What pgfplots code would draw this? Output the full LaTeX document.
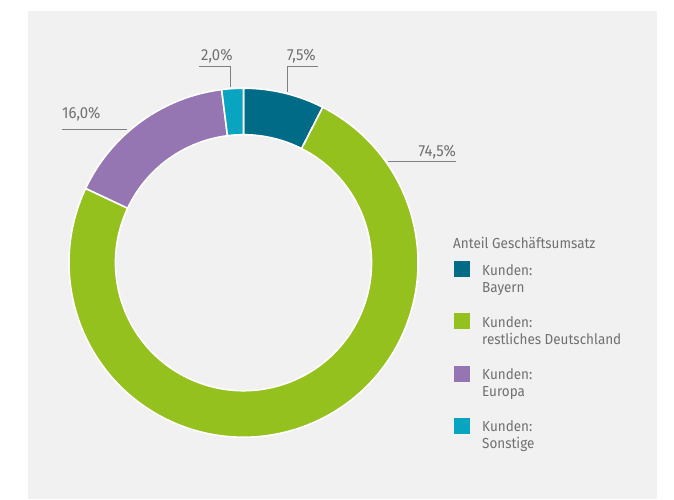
\documentclass[border=0pt]{standalone}
\usepackage{pgfplots}
\pgfplotsset{compat=1.18}
\usepackage{pgfplotstable}
\usepackage{fontspec}
\setmainfont{Fira Sans}[FakeStretch=0.93]
\definecolor{bg}{HTML}{F1F1F1}
\definecolor{txt}{HTML}{707070}
\definecolor{ln}{HTML}{808080}
\definecolor{col0}{HTML}{006B86}
\definecolor{col1}{HTML}{95C11F}
\definecolor{col2}{HTML}{9575B2}
\definecolor{col3}{HTML}{08A4C0}

\pgfplotstableread[col sep=comma]{
label,value
Bayern,7.5
restliches Deutschland,74.5
Europa,16.0
Sonstige,2.0
}\shares

\begin{document}
\begin{tikzpicture}[lbl/.style={inner sep=0pt,text=txt,font=\fontsize{14.5}{17}\selectfont},
  val/.style={inner sep=0pt,text=txt,font=\fontsize{16}{19}\selectfont}]
\gdef\cum{90}
\pgfplotstableforeachcolumnelement{value}\of\shares\as\v{%
  \pgfmathsetmacro\aend{\cum-3.6*\v}%
  \expandafter\xdef\csname as\pgfplotstablerow\endcsname{\cum}%
  \expandafter\xdef\csname ae\pgfplotstablerow\endcsname{\aend}%
  \xdef\cum{\aend}%
}
\begin{axis}[width=674pt,height=499pt,scale only axis,
  xmin=0,xmax=674,ymin=0,ymax=499,axis lines=none,clip=false]
\path (axis cs:0,0) rectangle (axis cs:674,499);
\fill[bg] (axis cs:28,0) rectangle (axis cs:657,488);
\pgfplotsinvokeforeach{0,1,2,3}{
  \filldraw[fill=col#1,draw=white,line width=1.6pt,line join=round]
    (axis cs:{243.5+174.5*cos(\csname as#1\endcsname)},{236.3+174.5*sin(\csname as#1\endcsname)})
    arc[start angle=\csname as#1\endcsname,end angle=\csname ae#1\endcsname,radius=174.5pt]
    -- (axis cs:{243.5+128*cos(\csname ae#1\endcsname)},{236.3+128*sin(\csname ae#1\endcsname)})
    arc[start angle=\csname ae#1\endcsname,end angle=\csname as#1\endcsname,radius=128pt]
    -- cycle;
}
% leader lines
\draw[ln,line width=0.9pt] (axis cs:199,433) -- (axis cs:230,433) -- (axis cs:230,412);
\draw[ln,line width=0.9pt] (axis cs:318,433) -- (axis cs:287,433) -- (axis cs:287,407);
\draw[ln,line width=0.9pt] (axis cs:388,338) -- (axis cs:456,338);
\draw[ln,line width=0.9pt] (axis cs:62,370) -- (axis cs:127,370);
% value labels
\node[val,anchor=base west] at (axis cs:201,438) {2,0\%};
\node[val,anchor=base west] at (axis cs:287,438) {7,5\%};
\node[val,anchor=base east] at (axis cs:456,343) {74,5\%};
\node[val,anchor=base west] at (axis cs:62,380) {16,0\%};
% legend
\node[lbl,anchor=base west] at (axis cs:453,251) {Anteil Geschäftsumsatz};
\fill[col0] (axis cs:454,238) rectangle (axis cs:470,222);
\node[lbl,anchor=base west] at (axis cs:482,224) {Kunden:};
\node[lbl,anchor=base west] at (axis cs:482,207) {Bayern};
\fill[col1] (axis cs:454,185.7) rectangle (axis cs:470,169.7);
\node[lbl,anchor=base west] at (axis cs:482,171.7) {Kunden:};
\node[lbl,anchor=base west] at (axis cs:482,154.7) {restliches Deutschland};
\fill[col2] (axis cs:454,133.4) rectangle (axis cs:470,117.4);
\node[lbl,anchor=base west] at (axis cs:482,119.4) {Kunden:};
\node[lbl,anchor=base west] at (axis cs:482,102.4) {Europa};
\fill[col3] (axis cs:454,81.1) rectangle (axis cs:470,65.1);
\node[lbl,anchor=base west] at (axis cs:482,67.1) {Kunden:};
\node[lbl,anchor=base west] at (axis cs:482,50.1) {Sonstige};
\end{axis}
\end{tikzpicture}
\end{document}
